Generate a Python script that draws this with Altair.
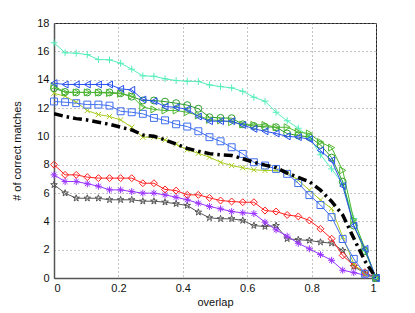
import altair as alt
import pandas as pd

overlap = [0, 0.0345, 0.069, 0.1034, 0.1379, 0.1724, 0.2069, 0.2414, 0.2759, 0.3103,
           0.3448, 0.3793, 0.4138, 0.4483, 0.4828, 0.5172, 0.5517, 0.5862, 0.6207, 0.6552,
           0.6897, 0.7241, 0.7586, 0.7931, 0.8276, 0.8621, 0.8966, 0.931, 0.9655, 1]

cyan_plus = [16.6, 15.9, 15.87, 15.77, 15.42, 15.4, 15.16, 14.74, 14.27, 14.24,
             14.06, 13.94, 13.89, 13.87, 13.63, 13.51, 13.42, 13.18, 12.76, 12.48,
             11.7, 11.1, 10.57, 9.95, 8.7, 7.7, 6.65, 4.2, 1.95, 0]
blue_left = [13.75, 13.66, 13.66, 13.66, 13.66, 13.66, 13.35, 13.28, 12.6, 12.48,
             12.1, 12.05, 11.9, 11.4, 11.07, 11.07, 11.07, 10.8, 10.53, 10.36,
             10.2, 10.0, 9.94, 9.8, 9.0, 8.3, 6.5, 3.7, 2.06, 0]
green_circle = [13.4, 13.13, 13.1, 13.1, 13.1, 13.1, 13.04, 12.8, 12.53, 12.53,
                12.45, 12.34, 12.2, 11.95, 11.35, 11.3, 11.28, 10.85, 10.73, 10.67,
                10.64, 10.2, 10.06, 9.95, 9.4, 8.5, 6.8, 3.7, 1.9, 0]
green_right = [13.55, 13.1, 13.1, 13.1, 13.08, 13.05, 13.0, 12.85, 12.06, 11.9,
               11.82, 11.82, 11.7, 11.47, 11.16, 11.12, 11.0, 10.83, 10.81, 10.81,
               10.64, 10.64, 10.3, 10.2, 9.6, 9.2, 7.6, 4.1, 2.1, 0]
blue_square = [12.46, 12.41, 12.34, 12.24, 12.24, 12.17, 11.77, 11.7, 11.59, 11.3,
               11.13, 10.85, 10.69, 10.36, 9.94, 9.65, 9.23, 8.76, 8.17, 7.94,
               7.7, 7.35, 6.7, 5.85, 5.15, 4.3, 2.75, 1.35, 0.3, 0]
yellow_x = [13.04, 12.83, 12.41, 11.82, 11.54, 11.4, 11.16, 10.64, 9.94, 9.94,
            9.75, 9.45, 9.05, 8.8, 8.53, 8.17, 7.94, 7.78, 7.64, 7.59,
            7.59, 7.45, 6.9, 6.2, 5.5, 4.9, 2.9, 1.0, 0.25, 0]
black_mean = [11.6, 11.4, 11.25, 11.15, 11.0, 10.85, 10.65, 10.45, 10.1, 10.0,
              9.75, 9.45, 9.15, 8.95, 8.78, 8.7, 8.65, 8.42, 8.17, 7.97,
              7.8, 7.4, 7.1, 6.8, 6.2, 5.4, 4.45, 2.8, 1.2, 0]
red_diamond = [8.0, 7.28, 7.28, 7.12, 7.05, 7.05, 7.05, 7.05, 6.69, 6.69,
               6.25, 6.17, 5.87, 5.87, 5.66, 5.47, 5.4, 5.35, 5.35, 4.76,
               4.69, 4.45, 4.35, 4.06, 3.47, 2.77, 1.59, 0.88, 0.41, 0]
purple_star = [7.28, 6.81, 6.81, 6.65, 6.48, 6.22, 6.22, 6.1, 5.99, 5.99,
               5.87, 5.7, 5.52, 5.28, 5.05, 4.88, 4.69, 4.6, 4.55, 3.94,
               3.4, 2.95, 2.45, 2.06, 1.65, 1.25, 0.55, 0.38, 0.2, 0]
gray_pentagram = [6.58, 5.99, 5.63, 5.63, 5.63, 5.52, 5.52, 5.52, 5.42, 5.42,
                  5.35, 5.24, 5.12, 4.64, 4.25, 4.18, 4.18, 4.06, 3.7, 3.63,
                  3.7, 2.77, 2.7, 2.65, 2.53, 2.46, 1.94, 0.81, 0.34, 0]

x_ticks = [0, 0.2, 0.4, 0.6, 0.8, 1]
y_ticks = [0, 2, 4, 6, 8, 10, 12, 14, 16, 18]

PLUS = "M-1,0L1,0M0,-1L0,1"
CROSS = "M-0.75,-0.75L0.75,0.75M-0.75,0.75L0.75,-0.75"
ASTER = "M-1,0L1,0M0,-1L0,1M-0.7,-0.7L0.7,0.7M-0.7,0.7L0.7,-0.7"
PENTA = ("M0,-1L0.225,-0.309L0.951,-0.309L0.363,0.118L0.588,0.809L0,0.382"
         "L-0.588,0.809L-0.363,0.118L-0.951,-0.309L-0.225,-0.309Z")

# (values, color, shape or None, line width, dash)
specs = [
    (gray_pentagram, "#555555", PENTA, 1, None),
    (purple_star, "#9933ff", ASTER, 1, None),
    (red_diamond, "#ff2020", "diamond", 1, None),
    (yellow_x, "#a8cc20", CROSS, 1, None),
    (blue_square, "#4070f0", "square", 1, None),
    (cyan_plus, "#55eebb", PLUS, 1, None),
    (green_circle, "#2e9e2e", "circle", 1, None),
    (green_right, "#50b830", "triangle-right", 1, None),
    (blue_left, "#2850f0", "triangle-left", 1, None),
    (black_mean, "#000000", None, 3.5, [9, 4, 2.5, 4]),
]

FONT = "Liberation Sans"
x_axis = alt.Axis(values=x_ticks, format="~g", title="overlap", grid=True,
                  gridDash=[1, 3], gridColor="#888888", gridOpacity=1,
                  domainColor="#555555", domainWidth=1.5, tickSize=0,
                  labelFont=FONT, labelFontSize=11, labelColor="#111111", labelPadding=4,
                  titleFont=FONT, titleFontSize=11, titleFontWeight="normal",
                  titleColor="#111111", titlePadding=3)
y_axis = alt.Axis(values=y_ticks, format="d", title="# of correct matches", grid=True,
                  gridDash=[1, 3], gridColor="#888888", gridOpacity=1,
                  domainColor="#555555", domainWidth=1.5, tickSize=0,
                  labelFont=FONT, labelFontSize=11, labelColor="#111111", labelPadding=5,
                  titleFont=FONT, titleFontSize=11, titleFontWeight="normal",
                  titleColor="#111111", titlePadding=14)

layers = []
for vals, color, shape, lw, dash in specs:
    df = pd.DataFrame({"overlap": overlap, "matches": vals})
    base = alt.Chart(df).encode(
        x=alt.X("overlap:Q", scale=alt.Scale(domain=[0, 1], nice=False, zero=False), axis=x_axis),
        y=alt.Y("matches:Q", scale=alt.Scale(domain=[0, 18], nice=False), axis=y_axis),
    )
    if dash:
        layers.append(base.mark_line(color=color, strokeWidth=lw, strokeDash=dash, clip=True))
    else:
        layers.append(base.mark_line(color=color, strokeWidth=lw, clip=True))
    if shape:
        layers.append(base.mark_point(shape=shape, color=color, filled=False,
                                      size=48, strokeWidth=1, opacity=1))

chart = alt.layer(*layers).properties(
    width=322, height=255,
    autosize=alt.AutoSizeParams(type="none"),
    padding={"left": 46, "top": 15, "right": 25, "bottom": 30},
    background="white",
).configure_view(stroke="#222222", strokeWidth=1)

chart.save("out.html", embed_options={"renderer": "svg", "actions": False})
